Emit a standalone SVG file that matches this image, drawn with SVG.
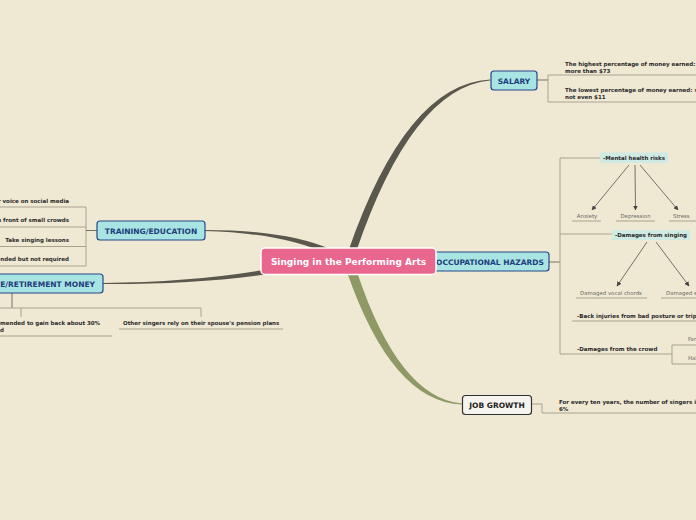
<svg xmlns="http://www.w3.org/2000/svg" width="696" height="520" viewBox="0 0 696 520">
<style>
.bg{fill:#efe8d2}
.br{fill:none;stroke:#a8a28f;stroke-width:1}
.ln{fill:none;stroke:#55534a;stroke-width:0.8}
.main{fill:#a8e4e1;stroke:#26478a;stroke-width:1.2}
.mt{font-family:"DejaVu Sans",Verdana,sans-serif;font-weight:bold;font-size:7.5px;fill:#1d3c7c;text-anchor:middle}
.st{font-family:"DejaVu Sans",Verdana,sans-serif;font-weight:bold;font-size:5.5px;fill:#2a2a2a}
.gt{font-family:"DejaVu Sans",Verdana,sans-serif;font-size:5.4px;fill:#6a6a6a}
.sub{fill:#cfe9e3}
.arr{fill:none;stroke:#55534a;stroke-width:0.8;marker-end:url(#ah)}
</style>
<defs>
<marker id="ah" viewBox="0 0 10 10" refX="9" refY="5" markerWidth="6" markerHeight="6" orient="auto">
<path d="M0,0 L10,5 L0,10 z" fill="#444"/>
</marker>
</defs>
<rect class="bg" x="0" y="0" width="696" height="520"/>
<g id="connectors">
<path d="M348,252 Q406,84 490,79.6 L490,80.6 Q412,88 356,252 Z" fill="#5a584c"/>
<path d="M347,272 Q392,402 462,404.6 L462,403.6 Q399,398 357,272 Z" fill="#8e9966"/>
<path d="M205,230 Q285,230 330,249 L330,255 Q283,233 205,231 Z" fill="#5a584c"/>
<path d="M103,283 Q200,282 275,268 L275,273 Q200,284.5 103,284 Z" fill="#5a584c"/>
<path class="br" d="M0,207 H86 V266 H0 M0,227 H86 M0,246.5 H86"/>
<path class="ln" d="M86,230.5 H97"/>
<path class="ln" d="M12,293 V308" stroke-width="1.2"/>
<path class="br" d="M0,308 H201 V317 M21,308 V317 M0,336 H112 M119,329 H283"/>
<path class="ln" d="M537,80 H548"/>
<path class="br" d="M696,75 H548 V102 H696"/>
<path class="ln" d="M549,262 H560"/>
<path class="br" d="M600,158 H560 V354 H672 M560,234 H612 M572,221 H601 M616,221 H655 M669,221 H696 M576,298 H647 M661,298 H696 M572,321 H696 M672,345 V364 M672,345 H696 M672,364 H696"/>
<path class="arr" d="M629,165 L592,210"/>
<path class="arr" d="M635,165 L635.5,210"/>
<path class="arr" d="M640,165 L678,210"/>
<path class="arr" d="M647,242 L617,286"/>
<path class="arr" d="M656,242 L689,286"/>
<path class="br" d="M531,404 H542 V413 H696"/>
</g>
<g id="training">
<rect class="main" x="97" y="221" width="108" height="19" rx="3"/>
<text class="mt" x="151" y="233.6">TRAINING/EDUCATION</text>
</g>
<g id="training-items">
<text class="st" x="69" y="203" text-anchor="end">r voice on social media</text>
<text class="st" x="69" y="222" text-anchor="end">n front of small crowds</text>
<text class="st" x="69" y="242" text-anchor="end">Take singing lessons</text>
<text class="st" x="69" y="261" text-anchor="end">nded but not required</text>
</g>
<g id="insurance">
<rect class="main" x="-10" y="274" width="113" height="19" rx="3"/>
<text class="mt" x="95" y="286.6" style="text-anchor:end">CE/RETIREMENT MONEY</text>
</g>
<g id="insurance-items">
<text class="st" x="0" y="325">mended to gain back about 30%</text>
<text class="st" x="0" y="332">d</text>
<text class="st" x="123" y="325">Other singers rely on their spouse's pension plans</text>
</g>
<g id="salary">
<rect class="main" x="491" y="71" width="46" height="19" rx="3"/>
<text class="mt" x="514" y="83.6">SALARY</text>
</g>
<g id="salary-items">
<text class="st" x="565" y="66">The highest percentage of money earned:</text>
<text class="st" x="565" y="73">more than $73</text>
<text class="st" x="565" y="92">The lowest percentage of money earned: s</text>
<text class="st" x="565" y="99">not even $11</text>
</g>
<g id="occupational">
<rect class="main" x="433" y="252" width="116" height="19" rx="3"/>
<text class="mt" x="490" y="264.6">OCCUPATIONAL HAZARDS</text>
</g>
<g id="mental">
<rect class="sub" x="600" y="152.5" width="68" height="10.5" rx="1"/>
<text class="st" x="634" y="159.8" text-anchor="middle">-Mental health risks</text>
</g>
<g id="mental-items">
<text class="gt" x="587" y="218" text-anchor="middle">Anxiety</text>
<text class="gt" x="635.5" y="218" text-anchor="middle">Depression</text>
<text class="gt" x="673" y="218">Stress</text>
</g>
<g id="singing">
<rect class="sub" x="612" y="230" width="78" height="10" rx="1"/>
<text class="st" x="651" y="237" text-anchor="middle">-Damages from singing</text>
</g>
<g id="singing-items">
<text class="gt" x="611" y="295" text-anchor="middle">Damaged vocal chords</text>
<text class="gt" x="666" y="295">Damaged e</text>
</g>
<g id="back">
<text class="st" x="577" y="318">-Back injuries from bad posture or trip</text>
</g>
<g id="crowd">
<text class="st" x="577" y="351">-Damages from the crowd</text>
</g>
<g id="crowd-items">
<text class="gt" x="688" y="341">Far</text>
<text class="gt" x="688" y="360">Hal</text>
</g>
<g id="job">
<rect x="462.5" y="395.5" width="69" height="19" rx="3" fill="#f6f4ee" stroke="#333" stroke-width="1.2"/>
<text class="mt" x="497" y="407.6" style="fill:#222">JOB GROWTH</text>
</g>
<g id="job-items">
<text class="st" x="559" y="404">For every ten years, the number of singers i</text>
<text class="st" x="559" y="410.5">6%</text>
</g>
<g id="center">
<rect x="261" y="248" width="175" height="26.5" rx="4" fill="#e9678f" stroke="#ffffff" stroke-width="1.5"/>
<text x="348.5" y="264.8" text-anchor="middle" font-family="DejaVu Sans, Verdana, sans-serif" font-weight="bold" font-size="9" fill="#ffffff">Singing in the Performing Arts</text>
</g>
</svg>
